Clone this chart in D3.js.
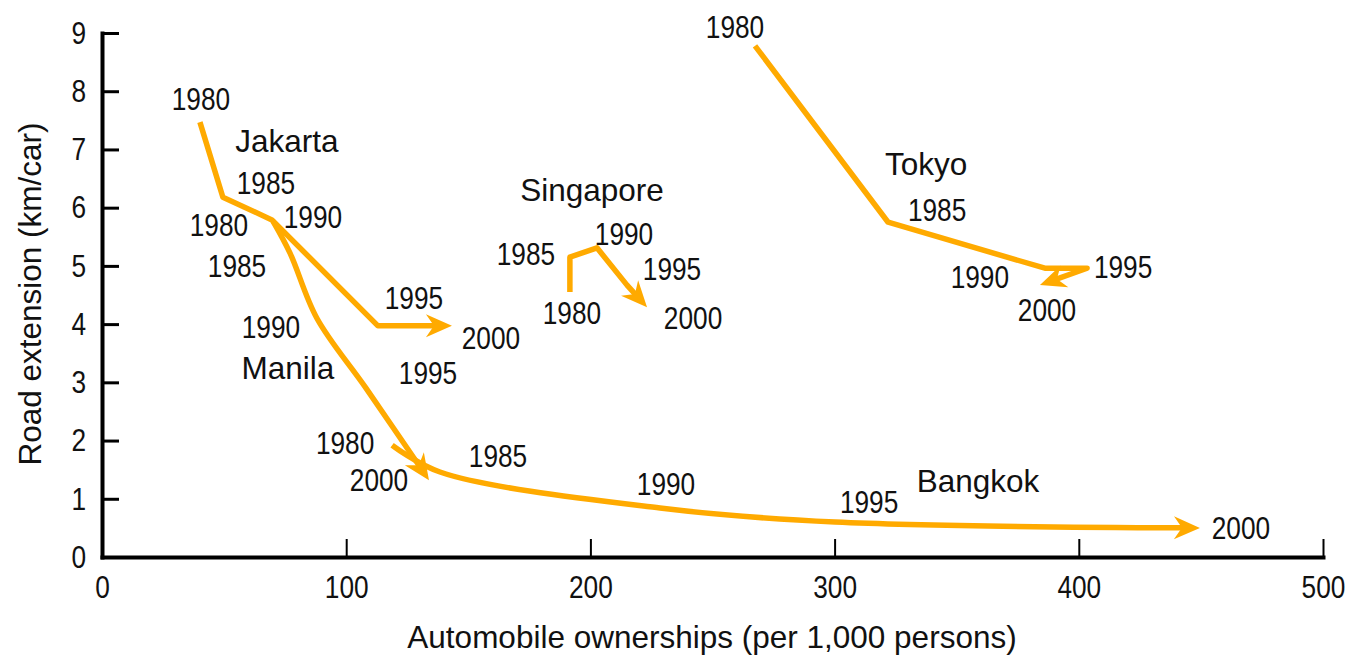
<!DOCTYPE html>
<html>
<head>
<meta charset="utf-8">
<script src="https://cdn.jsdelivr.net/npm/d3@7"></script>
<style>
  body { margin: 0; background: #fff; }
  svg text { fill: #111; }
  .num { font-family: "Liberation Sans Narrow", "Liberation Sans", Arial, sans-serif; font-size: 32px; }
  .word { font-family: "Liberation Sans", Arial, sans-serif; font-size: 31.5px; }
  .axis .domain { stroke: #000; stroke-width: 4; stroke-linecap: square; }
  .axis.y .tick line { stroke: #000; stroke-width: 3; }
  .axis.x .tick line { stroke: #000; stroke-width: 2; }
  .route { fill: none; stroke: #ffaa00; stroke-width: 5.5; stroke-linejoin: round; }
  .head { fill: #ffaa00; }
</style>
</head>
<body>
<script>
// 年
var years = [1980, 1985, 1990, 1995, 2000];

// 自動車保有 (per 1,000 persons)
var jakartaCars   = [40.1, 49.5, 69.6, 113.0, 143.3];
var manilaCars    = [70.0, 77.0, 88.0, 108.1, 133.9];
var bangkokCars   = [118.8, 138.4, 228.5, 300.2, 449.6];
var singaporeCars = [191.6, 191.6, 202.7, 215.0, 223.2];
var tokyoCars     = [267.4, 321.9, 386.1, 403.4, 384.1];

// 道路延長 (km/car)
var jakartaRoad   = [7.47, 6.18, 5.79, 3.97, 3.97];
var manilaRoad    = [5.77, 5.22, 4.10, 2.90, 1.32];
var bangkokRoad   = [1.92, 1.46, 0.84, 0.60, 0.50];
var singaporeRoad = [4.55, 5.15, 5.31, 4.67, 4.29];
var tokyoRoad     = [8.78, 5.75, 4.96, 4.96, 4.67];

// 軸目盛
var xTicks = [0, 100, 200, 300, 400, 500];
var yTicks = [0, 1, 2, 3, 4, 5, 6, 7, 8, 9];

var cities = [
  {name: "Jakarta",   cars: jakartaCars,   road: jakartaRoad},
  {name: "Manila",    cars: manilaCars,    road: manilaRoad},
  {name: "Bangkok",   cars: bangkokCars,   road: bangkokRoad},
  {name: "Singapore", cars: singaporeCars, road: singaporeRoad},
  {name: "Tokyo",     cars: tokyoCars,     road: tokyoRoad}
];

// ラベル配置 (px offset from each point) と曲線の種類
var layout = {
  Jakarta:   {curve: d3.curveLinear, name: [0, 87, 19],
              yr: [[1, -23], [43, -14], [41, -3], [36, -28], [39, 12]]},
  Manila:    {curve: d3.curveCatmullRom, name: [2, -29, 50],
              yr: [[-54, 4], [-53, 13], [-46, 9], [62, -15], [-50, 0]]},
  Bangkok:   {curve: d3.curveCatmullRom, name: [3, 143, -41],
              yr: [[-47, -2], [58, -16], [6, -24], [34, -20], [41, 0]]},
  Singapore: {curve: d3.curveLinear, name: [2, -5, -58],
              yr: [[2, 21], [-44, -3], [27, -14], [45, -16], [46, 11]]},
  Tokyo:     {curve: d3.curveLinear, name: [1, 38, -58],
              yr: [[-20, -19], [49, -12], [-65, 9], [36, -1], [7, 25]]}
};

var width = 1352, height = 660;

var svg = d3.select("body").append("svg")
    .attr("width", width)
    .attr("height", height);

var x = d3.scaleLinear().domain([0, 500]).range([102, 1323]);
var y = d3.scaleLinear().domain([0, 9]).range([557, 33]);

// 数字は細身に詰める
function narrow(sel) {
  sel.each(function() {
    var w = this.getComputedTextLength();
    d3.select(this).attr("textLength", w * 0.82).attr("lengthAdjust", "spacingAndGlyphs");
  });
}

// X軸
var gx = svg.append("g")
    .attr("class", "axis x")
    .attr("transform", "translate(0,557)")
    .call(d3.axisBottom(x).tickValues(xTicks).tickSizeInner(-18).tickSizeOuter(0).tickPadding(18));
gx.selectAll("text").attr("class", "num").call(narrow);

// Y軸
var gy = svg.append("g")
    .attr("class", "axis y")
    .attr("transform", "translate(102,0)")
    .call(d3.axisLeft(y).tickValues(yTicks).tickSizeInner(-17).tickSizeOuter(0).tickPadding(16));
gy.selectAll("text").attr("class", "num").call(narrow);

// 軸タイトル
svg.append("text")
    .attr("class", "word")
    .attr("x", 712).attr("y", 637).attr("dy", "0.35em")
    .attr("text-anchor", "middle")
    .text("Automobile ownerships (per 1,000 persons)");

svg.append("text")
    .attr("class", "word")
    .attr("transform", "translate(30,294) rotate(-90)")
    .attr("dy", "0.35em")
    .attr("text-anchor", "middle")
    .text("Road extension (km/car)");

// 経路と矢印
cities.forEach(function(c) {
  var L = layout[c.name];
  var pts = c.cars.map(function(v, i) { return [x(v), y(c.road[i])]; });
  var line = d3.line().curve(L.curve);

  var path = svg.append("path")
      .attr("class", "route")
      .attr("d", line(pts));

  var node = path.node(),
      total = node.getTotalLength(),
      tip = node.getPointAtLength(total),
      back = node.getPointAtLength(total - 6),
      ang = Math.atan2(tip.y - back.y, tip.x - back.x) * 180 / Math.PI;

  path.attr("stroke-dasharray", (total - 16) + " " + total);

  svg.append("path")
      .attr("class", "head")
      .attr("d", "M0,0L-26,-11.5L-18,0L-26,11.5Z")
      .attr("transform", "translate(" + tip.x + "," + tip.y + ") rotate(" + ang + ")");

  // 年ラベル
  years.forEach(function(yr, i) {
    svg.append("text")
        .attr("class", "num")
        .attr("x", pts[i][0] + L.yr[i][0])
        .attr("y", pts[i][1] + L.yr[i][1])
        .attr("dy", "0.35em")
        .attr("text-anchor", "middle")
        .text(yr)
        .call(narrow);
  });

  // 都市名
  var p = pts[L.name[0]];
  svg.append("text")
      .attr("class", "word")
      .attr("x", p[0] + L.name[1])
      .attr("y", p[1] + L.name[2])
      .attr("dy", "0.35em")
      .attr("text-anchor", "middle")
      .text(c.name);
});
</script>
</body>
</html>
